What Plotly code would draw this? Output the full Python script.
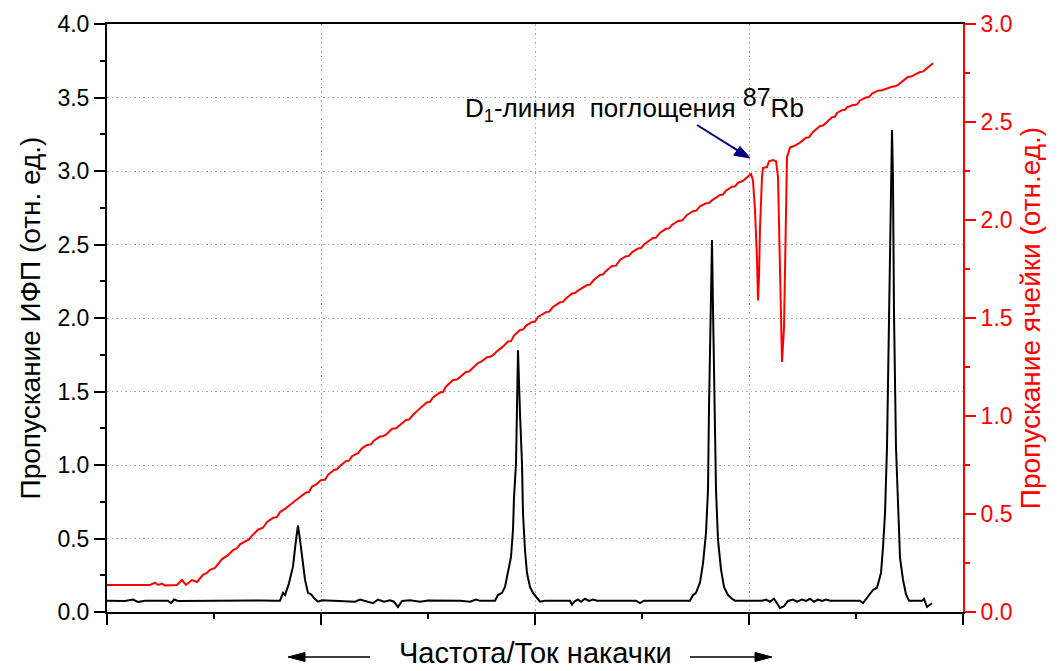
import plotly.graph_objects as go

# Sweep position (arbitrary units, axis spans 107..963; unlabeled in the original)
ifp_x = [107, 125, 133, 138, 145, 168, 171, 174, 178, 200, 230, 260, 275, 280,
         283, 285, 289, 293, 296, 298, 300, 303, 305, 308, 311, 315, 318, 322,
         340, 355, 360, 366, 373, 378, 384, 390, 394, 398, 402, 410, 420, 428, 440, 460, 470, 476, 480, 495,
         498, 502, 505, 508, 511, 513, 514, 516, 517, 518, 520, 522, 523, 525, 527, 530, 533, 537, 540, 545,
         560, 570, 572, 575, 578, 581, 585, 589, 593, 597, 620, 636, 640, 644, 665, 690,
         693, 696, 700, 703, 706, 708, 709, 711, 712, 713, 715, 716, 718, 721, 724, 728, 732, 735,
         755, 762, 766, 770, 774, 778, 780, 784, 788, 793, 797, 802, 806, 810, 814, 818, 822, 826, 830, 850, 860, 863, 867,
         873, 877, 881, 883, 885, 887, 889, 891, 892, 893, 894, 896, 898, 900, 903, 906, 909, 922, 924, 927, 932]
# Interferometer (IFP) transmission, left axis
ifp_y = [0.077, 0.075, 0.085, 0.068, 0.077, 0.077, 0.060, 0.085, 0.075, 0.077, 0.076, 0.078, 0.077, 0.077,
         0.13, 0.115, 0.195, 0.31, 0.49, 0.59, 0.49, 0.31, 0.22, 0.13, 0.12, 0.088, 0.070, 0.080,
         0.077, 0.070, 0.085, 0.075, 0.060, 0.085, 0.070, 0.080, 0.070, 0.034, 0.075, 0.080, 0.070, 0.078, 0.077, 0.077, 0.070, 0.085, 0.076, 0.077,
         0.115, 0.13, 0.17, 0.265, 0.375, 0.56, 0.78, 1.01, 1.35, 1.78, 1.35, 1.01, 0.67, 0.42, 0.265, 0.17, 0.13, 0.095, 0.070, 0.077,
         0.077, 0.077, 0.050, 0.075, 0.085, 0.070, 0.090, 0.075, 0.085, 0.077, 0.077, 0.077, 0.060, 0.077, 0.077, 0.077,
         0.115, 0.13, 0.20, 0.33, 0.54, 0.83, 1.39, 2.07, 2.53, 2.07, 1.39, 0.83, 0.49, 0.29, 0.17, 0.115, 0.090, 0.077,
         0.077, 0.077, 0.085, 0.070, 0.090, 0.050, 0.027, 0.040, 0.075, 0.085, 0.070, 0.085, 0.075, 0.090, 0.070, 0.085, 0.075, 0.085, 0.077, 0.077, 0.077, 0.060, 0.095,
         0.15, 0.165, 0.265, 0.44, 0.67, 1.12, 2.03, 2.94, 3.28, 2.94, 2.03, 1.12, 0.67, 0.37, 0.22, 0.12, 0.077, 0.077, 0.090, 0.034, 0.060]

cell_x = [107, 130, 150, 155, 158, 162, 165, 177, 182, 186, 192, 197,
          203, 207, 210, 215, 219, 222, 228, 233, 237, 240, 245, 249, 252, 258, 263, 267, 273, 277, 280, 286, 292, 296, 300,
          306, 309, 312, 316, 321, 325, 328, 334, 337, 340, 346, 349, 352, 358, 362, 367, 371, 374, 380, 383, 386, 392, 396, 400,
          406, 409, 412, 418, 422, 427, 430, 433, 440, 443, 446, 453, 457, 460, 466, 469, 472, 478, 482, 487, 490, 493, 497, 502,
          508, 511, 514, 520, 523, 526, 532, 535, 538, 546, 549, 553, 560, 563, 566, 572, 575, 578, 587, 590, 594, 600, 603, 606, 612, 616, 620,
          626, 629, 632, 638, 641, 644, 653, 656, 660, 666, 669, 672, 678, 682, 687, 693, 696, 700, 706, 709, 712, 720, 723, 726, 732, 735, 738, 743, 747, 751,
          753, 755, 757, 758, 759, 760, 762, 763, 767, 769, 773, 776, 778, 779, 781, 782, 784, 785, 786, 787, 790, 795,
          800, 806, 809, 813, 820, 823, 827, 832, 835, 837, 842, 845, 847, 853, 857, 860, 866, 869, 872, 878, 882, 887, 892, 895, 898, 903, 908, 911, 914, 920, 923, 926, 930, 933]
# Rb cell transmission, right axis
cell_y = [0.138, 0.138, 0.138, 0.150, 0.138, 0.145, 0.135, 0.138, 0.163, 0.138, 0.163, 0.153,
          0.190, 0.200, 0.215, 0.225, 0.250, 0.270, 0.290, 0.316, 0.325, 0.345, 0.360, 0.370, 0.390, 0.420, 0.430, 0.459, 0.480, 0.485, 0.510, 0.530, 0.555, 0.570, 0.587,
          0.610, 0.612, 0.640, 0.650, 0.673, 0.675, 0.700, 0.725, 0.728, 0.745, 0.770, 0.772, 0.795, 0.810, 0.835, 0.852, 0.855, 0.875, 0.895, 0.897, 0.905, 0.935, 0.937, 0.954,
          0.980, 0.982, 1.000, 1.030, 1.050, 1.070, 1.072, 1.095, 1.120, 1.122, 1.150, 1.184, 1.186, 1.200, 1.225, 1.227, 1.240, 1.270, 1.280, 1.300, 1.302, 1.310, 1.330, 1.350,
          1.380, 1.382, 1.410, 1.439, 1.441, 1.460, 1.480, 1.482, 1.505, 1.530, 1.532, 1.556, 1.580, 1.582, 1.600, 1.625, 1.627, 1.640, 1.668, 1.670, 1.695, 1.720, 1.722, 1.740, 1.765, 1.767, 1.796,
          1.815, 1.817, 1.835, 1.855, 1.857, 1.875, 1.908, 1.910, 1.935, 1.955, 1.957, 1.975, 1.995, 1.997, 2.026, 2.045, 2.047, 2.070, 2.085, 2.087, 2.100, 2.128, 2.130, 2.150, 2.170, 2.172, 2.190, 2.200, 2.220, 2.235,
          2.200, 2.050, 1.800, 1.590, 1.710, 1.960, 2.220, 2.265, 2.270, 2.300, 2.306, 2.300, 2.220, 1.960, 1.630, 1.276, 1.450, 1.800, 2.140, 2.320, 2.370, 2.380,
          2.395, 2.420, 2.422, 2.449, 2.480, 2.482, 2.500, 2.525, 2.527, 2.546, 2.560, 2.562, 2.575, 2.587, 2.589, 2.610, 2.625, 2.627, 2.645, 2.660, 2.662, 2.673, 2.680, 2.682, 2.689, 2.710, 2.730, 2.732, 2.740, 2.755, 2.757, 2.770, 2.785, 2.800]

left_title = "Пропускание ИФП (отн. ед.)"
right_title = "Пропускание ячейки (отн.ед.)"
x_title = "Частота/Ток накачки"
note_text = ("D<sub>1</sub>-линия&nbsp;&nbsp;поглощения "
             "<sup><span style='font-size:25px'>87</span></sup>Rb")

FONT = "Liberation Sans, Arial, sans-serif"
RED = "#ff0000"
NAVY = "#000080"

# plot-area geometry (pixels) used only to place decorations
L, R, T, B = 107, 963, 24, 612


def px(xp, yp):
    """pixel position -> (paper x, paper y) for decorations"""
    return (xp - L) / (R - L), (B - yp) / (B - T)


def tri_path(points):
    return "M " + " L ".join(f"{a:.5f},{b:.5f}" for a, b in (px(*p) for p in points)) + " Z"


fig = go.Figure()
fig.add_trace(go.Scatter(x=ifp_x, y=ifp_y, mode="lines",
                         line=dict(color="black", width=2), yaxis="y"))
fig.add_trace(go.Scatter(x=cell_x, y=cell_y, mode="lines",
                         line=dict(color=RED, width=2), yaxis="y2"))

grid = dict(showgrid=True, gridcolor="#a8a8a8", griddash="1.5px,3px", gridwidth=1)

fig.update_layout(
    width=1062, height=671,
    margin=dict(l=L, r=1062 - R, t=T, b=671 - B),
    plot_bgcolor="white", paper_bgcolor="white",
    showlegend=False,
    font=dict(family=FONT, color="black", size=23),
    xaxis=dict(range=[107, 963], tick0=107, dtick=214, showticklabels=False,
               ticks="outside", ticklen=11, tickwidth=2, tickcolor="black",
               showline=True, linecolor="black", linewidth=2, mirror=True,
               zeroline=False,
               minor=dict(ticks="outside", ticklen=5, tickwidth=2, tickcolor="black",
                          tick0=107, dtick=107, showgrid=False),
               **grid),
    yaxis=dict(range=[0, 4], tick0=0, dtick=0.5, tickformat=".1f",
               ticks="outside", ticklen=11, tickwidth=2, tickcolor="black",
               showline=True, linecolor="black", linewidth=2, zeroline=False,
               tickfont=dict(size=23, color="black"),
               minor=dict(ticks="outside", ticklen=5, tickwidth=2, tickcolor="black",
                          dtick=0.25, showgrid=False),
               title=dict(text=left_title, font=dict(size=28, color="black"), standoff=9),
               **grid),
    yaxis2=dict(range=[0, 3], tick0=0, dtick=0.5, tickformat=".1f",
                overlaying="y", side="right",
                ticks="outside", ticklen=11, tickwidth=2, tickcolor=RED,
                showline=True, linecolor=RED, linewidth=2, zeroline=False,
                showgrid=False,
                tickfont=dict(size=23, color=RED),
                minor=dict(ticks="outside", ticklen=5, tickwidth=2, tickcolor=RED,
                           dtick=0.25, showgrid=False),
                title=dict(text=right_title, font=dict(size=28, color=RED), standoff=9)),
)

# bottom label
bx, by = px(535, 670)
fig.add_annotation(xref="paper", yref="paper", x=bx, y=by, text=x_title,
                   showarrow=False, font=dict(size=29, color="black"),
                   xanchor="center", yanchor="bottom", borderpad=0)

shapes = []
# bottom-left arrow (points left)
x0, y0 = px(370, 657); x1, y1 = px(302, 657)
shapes.append(dict(type="line", xref="paper", yref="paper", x0=x0, y0=y0, x1=x1, y1=y1,
                   line=dict(color="black", width=1.5)))
shapes.append(dict(type="path", xref="paper", yref="paper",
                   path=tri_path([(288, 657), (305, 652.5), (305, 661.5)]),
                   fillcolor="black", line=dict(color="black", width=1)))
# bottom-right arrow (points right)
x0, y0 = px(690, 657); x1, y1 = px(758, 657)
shapes.append(dict(type="line", xref="paper", yref="paper", x0=x0, y0=y0, x1=x1, y1=y1,
                   line=dict(color="black", width=1.5)))
shapes.append(dict(type="path", xref="paper", yref="paper",
                   path=tri_path([(772, 657), (755, 652.5), (755, 661.5)]),
                   fillcolor="black", line=dict(color="black", width=1)))
# navy pointer to the D1 absorption dips
x0, y0 = px(697, 125); x1, y1 = px(740, 151.8)
shapes.append(dict(type="line", xref="paper", yref="paper", x0=x0, y0=y0, x1=x1, y1=y1,
                   line=dict(color=NAVY, width=2)))
shapes.append(dict(type="path", xref="paper", yref="paper",
                   path=tri_path([(750, 158), (733.6, 155.2), (736.6, 151.3), (740.0, 146.4)]),
                   fillcolor=NAVY, line=dict(color=NAVY, width=1)))
fig.update_layout(shapes=shapes)

# D1-line annotation
tx, ty = px(463, 105)
fig.add_annotation(xref="paper", yref="paper", x=tx, y=ty, text=note_text,
                   showarrow=False, font=dict(size=26, color="black"),
                   xanchor="left", yanchor="middle")

fig.write_html("out.html")
